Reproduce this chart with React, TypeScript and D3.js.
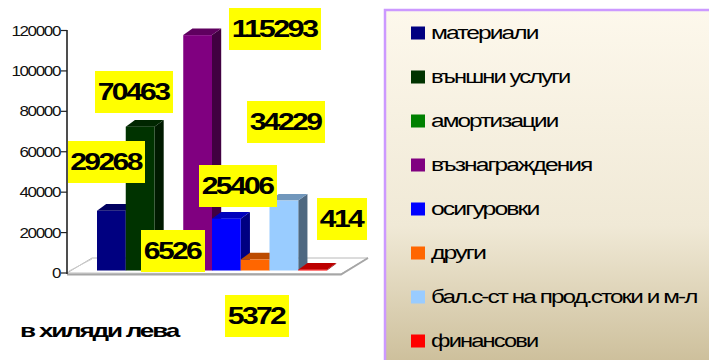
import React from "react";
import * as d3 from "d3";

const categories = ["материали", "външни услуги", "амортизации", "възнаграждения", "осигуровки", "други", "бал.с-ст на прод.стоки и м-л", "финансови"];
const values = [29268, 70463, 6526, 115293, 25406, 5372, 34229, 414];
const colors = ["#000080", "#003300", "#008000", "#800080", "#0000ff", "#ff6600", "#99ccff", "#ff0000"];
const yTicks = [0, 20000, 40000, 60000, 80000, 100000, 120000];
const unitTitle = "в хиляди лева";

// hand-placed data-label boxes of the reference: [left, top, width]
const labelBoxes: [number, number, number][] = [
  [68, 141, 77], [95, 71, 78], [141, 230, 64], [229, 8, 92],
  [199, 165, 78], [225, 295, 64], [247, 101, 78], [317, 198, 50],
];
const legendWidths = [106.5, 138.5, 126.5, 160.5, 107.5, 54, 265.5, 106.5];

const FONT = "'Liberation Sans', Arial, sans-serif";

export default function App() {
  const axisY = d3.scaleLinear().domain([0, 120000]).range([273, 30.5]);
  const barY = d3.scaleLinear().domain([0, 120000]).range([270.5, 25.5]);
  const x = d3.scaleBand<string>().domain(categories).range([97, 327]);
  const legendY = d3.scalePoint<string>().domain(categories).range([33, 341]);
  const dx = 9.2, dy = 6.7;

  return (
    <svg width={709} height={360} style={{ position: "fixed", left: 0, top: 0, display: "block" }} fontFamily={FONT}>
      <defs>
        <linearGradient id="lg" x1="0" y1="0" x2="0" y2="1">
          <stop offset="0" stopColor="#fdf8ec" />
          <stop offset="0.6" stopColor="#f0e9d6" />
          <stop offset="1" stopColor="#cbbd98" />
        </linearGradient>
      </defs>
      <rect width={709} height={360} fill="#fff" />

      {/* floor */}
      <path d="M67,273 L92,258 L368,258 L341,274 Z" fill="#fff" stroke="#b8b8b8" strokeWidth={1} />
      <path d="M69,271 L92,259" stroke="#ccc" strokeWidth={1} fill="none" />
      <path d="M67,274.5 L341,274.5 L368,258" stroke="#a6a6a6" strokeWidth={2} fill="none" />

      {/* axis */}
      <line x1={67} x2={67} y1={30} y2={274} stroke="#222" strokeWidth={1.6} />
      {yTicks.map((t) => (
        <g key={t}>
          <line x1={61} x2={67} y1={axisY(t)} y2={axisY(t)} stroke="#222" strokeWidth={1.2} />
          <text x={60} y={axisY(t) + 5} textAnchor="end" fontSize={15} fill="#111" letterSpacing={-1.2}
            textLength={String(t).length * 8.1} lengthAdjust="spacingAndGlyphs">{t}</text>
        </g>
      ))}

      {/* bars */}
      {categories.map((c, i) => {
        const l = x(c)!, w = x.bandwidth(), r = l + w;
        const t = barY(values[i]), b = barY(0);
        const base = d3.rgb(colors[i]);
        return (
          <g key={c}>
            <path d={`M${r},${t} L${r + dx},${t - dy} L${r + dx},${b - dy} L${r},${b} Z`} fill={base.darker(1.9).formatHex()} />
            <path d={`M${l},${t} L${l + dx},${t - dy} L${r + dx},${t - dy} L${r},${t} Z`} fill={base.darker(0.85).formatHex()} />
            <rect x={l} y={t} width={w} height={b - t} fill={colors[i]} />
          </g>
        );
      })}

      {/* data labels */}
      {values.map((v, i) => {
        const [bx, by, bw] = labelBoxes[i];
        const s = String(v);
        return (
          <g key={v}>
            <rect x={bx} y={by} width={bw} height={42} fill="#ffff00" />
            <text x={bx + bw / 2 - 1} y={by + 28.5} textAnchor="middle" fontSize={23} fontWeight="bold" fill="#000" letterSpacing={-2}
              textLength={s.length * 14.1} lengthAdjust="spacingAndGlyphs">{s}</text>
          </g>
        );
      })}

      <text x={20} y={337} fontSize={19} fontWeight="bold" fill="#000" letterSpacing={-1.6} textLength={158} lengthAdjust="spacingAndGlyphs">{unitTitle}</text>

      {/* legend */}
      <rect x={385} y={10} width={330} height={360} fill="url(#lg)" stroke="#cc99ff" strokeWidth={2.5} />
      {categories.map((c, i) => (
        <g key={c}>
          <rect x={411} y={legendY(c)! - 6.5} width={14} height={13} fill={colors[i]} />
          <text x={431} y={legendY(c)! + 6} fontSize={18} fill="#000" letterSpacing={-1.4}
            textLength={legendWidths[i]} lengthAdjust="spacingAndGlyphs">{c}</text>
        </g>
      ))}
    </svg>
  );
}
